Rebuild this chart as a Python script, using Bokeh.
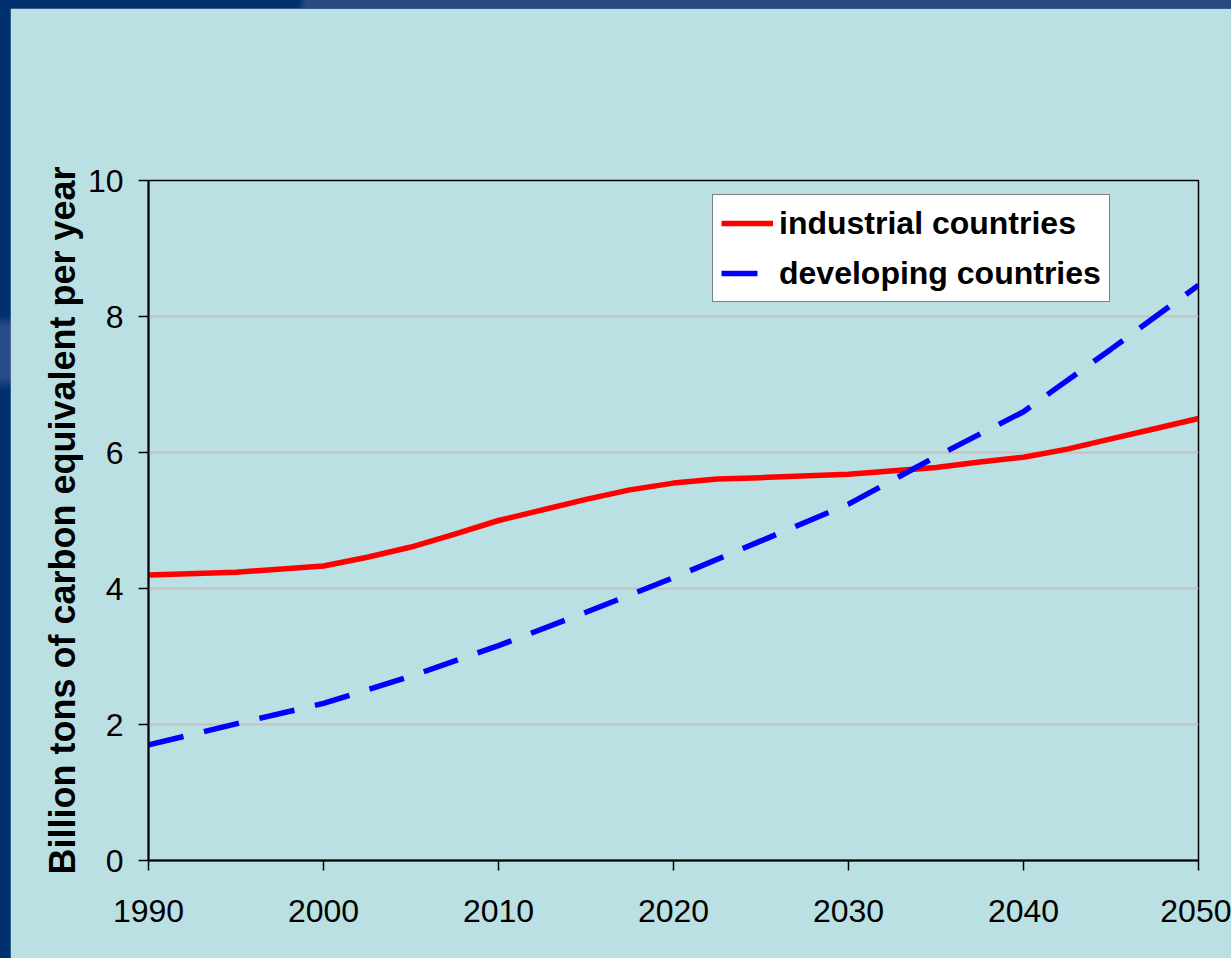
from bokeh.plotting import figure
from bokeh.layouts import column
from bokeh.models import Range1d, FixedTicker, Legend, LegendItem
from bokeh.embed import file_html
from bokeh.resources import INLINE

ind_years = [1990, 1995, 2000, 2002.5, 2005, 2007.5, 2010, 2015, 2017.5, 2020, 2022.5,
             2025, 2030, 2035, 2037.5, 2040, 2042.5, 2045, 2047.5, 2050]
industrial = [4.20, 4.24, 4.33, 4.46, 4.61, 4.80, 5.00, 5.31, 5.45, 5.55, 5.61,
              5.63, 5.68, 5.78, 5.86, 5.93, 6.05, 6.20, 6.35, 6.50]
dev_years = [1990, 1995, 2000, 2005, 2010, 2015, 2020, 2025, 2030, 2035, 2040, 2045, 2050]
developing = [1.70, 2.01, 2.31, 2.71, 3.16, 3.65, 4.16, 4.70, 5.24, 5.94, 6.60, 7.52, 8.46]
x_ticks = [1990, 2000, 2010, 2020, 2030, 2040, 2050]
y_ticks = [0, 2, 4, 6, 8, 10]
series_names = ["industrial countries", "developing countries"]

BG = "#BAE0E3"
FONT = "Liberation Sans"

p = figure(width=1221, height=950, output_backend="svg", toolbar_location=None,
           x_range=Range1d(1990, 2050), y_range=Range1d(0, 10),
           min_border_left=138, min_border_top=172, min_border_bottom=98,
           min_border_right=33, margin=(8, 0, 0, 10))
p.background_fill_color = BG
p.border_fill_color = BG
p.outline_line_color = "black"
p.outline_line_width = 1.5

p.xgrid.visible = False
p.ygrid.ticker = FixedTicker(ticks=[2, 4, 6, 8])
p.ygrid.grid_line_color = "#C2C2C2"
p.ygrid.grid_line_width = 2

for ax in (p.xaxis[0], p.yaxis[0]):
    ax.axis_line_color = "black"
    ax.axis_line_width = 2
    ax.major_tick_line_color = "black"
    ax.major_tick_line_width = 1.5
    ax.major_tick_in = 0
    ax.major_tick_out = 10
    ax.minor_tick_line_color = None
    ax.major_label_text_font = FONT
    ax.major_label_text_font_size = "32px"
    ax.major_label_text_color = "black"

p.xaxis.ticker = FixedTicker(ticks=x_ticks)
p.yaxis.ticker = FixedTicker(ticks=y_ticks)
p.xaxis.major_label_standoff = 29
p.yaxis.major_label_standoff = 15

p.yaxis.axis_label = "Billion tons of carbon equivalent per year"
p.yaxis.axis_label_text_font = FONT
p.yaxis.axis_label_text_font_style = "bold"
p.yaxis.axis_label_text_font_size = "36px"
p.yaxis.axis_label_text_color = "black"
p.yaxis.axis_label_standoff = 2

r1 = p.line(ind_years, industrial, line_color="#FF0000", line_width=5.5,
            line_join="round")
r2 = p.line(dev_years, developing, line_color="#0000FF", line_width=5.5,
            line_dash="36 21")

legend = Legend(items=[LegendItem(label=series_names[0], renderers=[r1]),
                       LegendItem(label=series_names[1], renderers=[r2])],
                location=(564, 558))
legend.background_fill_color = "white"
legend.background_fill_alpha = 1
legend.border_line_color = "black"
legend.border_line_width = 1.5
legend.label_text_font = FONT
legend.label_text_font_style = "bold"
legend.label_text_font_size = "32px"
legend.label_text_color = "black"
legend.padding = 8
legend.spacing = 10
legend.margin = 0
legend.glyph_width = 52
legend.glyph_height = 40
legend.label_height = 40
legend.label_standoff = 6
p.add_layout(legend, "center")

page = column(p, styles={
    "background-color": "#003070",
    "background-image": "linear-gradient(100deg, #003070 294px, #274A80 302px), "
                        "linear-gradient(to bottom, #003070 316px, #284C85 326px, #284C85 378px, #003070 390px)",
    "background-size": "100% 8px, 100% 100%",
    "background-repeat": "no-repeat",
})

open("out.html", "w").write(file_html(page, INLINE))
